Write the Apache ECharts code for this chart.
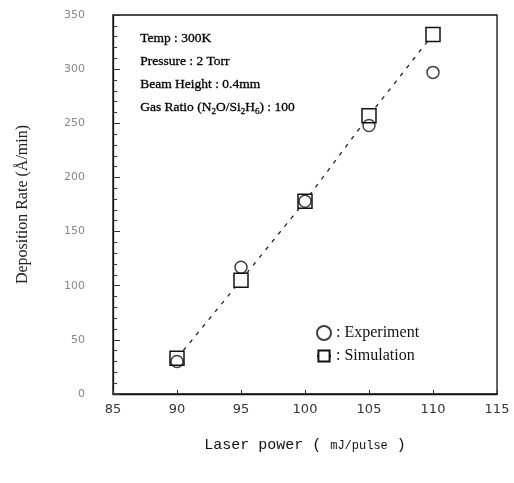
<!DOCTYPE html>
<html>
<head>
<meta charset="utf-8">
<script src="https://cdn.jsdelivr.net/npm/echarts@6/dist/echarts.min.js"></script>
<style>
  html, body { margin: 0; padding: 0; background: #fff; }
  #main { width: 514px; height: 483px; }
</style>
</head>
<body>
<div id="main"></div>
<script>
// laser power (mJ/pulse)
var power = [90, 95, 100, 105, 110];
// deposition rate (A/min)
var experiment = [30, 117, 178, 248, 297];
var simulation = [33, 105, 178, 257, 332];
var conditions = [
    'Temp : 300K',
    'Pressure : 2 Torr',
    'Beam Height : 0.4mm',
    'Gas Ratio (N{s|2}O/Si{s|2}H{s|6}) : 100'
];

var myChart = echarts.init(document.getElementById('main'));

var serif = '"Liberation Serif", "DejaVu Serif", serif';

var option = {
    backgroundColor: '#fff',
    animation: false,
    grid: { left: 113, right: 17, top: 15, bottom: 89 },
    legend: {
        orient: 'vertical',
        left: 311,
        top: 320,
        itemGap: 7,
        itemWidth: 14,
        itemHeight: 14,
        data: ['Experiment', 'Simulation'],
        formatter: function (name) { return ': ' + name; },
        textStyle: { fontFamily: serif, fontSize: 16, color: '#111' }
    },
    xAxis: {
        type: 'value',
        min: 85, max: 115, interval: 5,
        name: 'Laser power ( {s|mJ/pulse} )',
        nameLocation: 'middle',
        nameGap: 44,
        nameTextStyle: {
            fontFamily: '"Liberation Mono", monospace', fontSize: 15, color: '#111',
            rich: { s: { fontFamily: '"Liberation Mono", monospace', fontSize: 12, color: '#111' } }
        },
        axisLine: { lineStyle: { color: '#111', width: 1.3 } },
        axisTick: { inside: true, length: 4, lineStyle: { color: '#333' } },
        axisLabel: { fontFamily: '"DejaVu Sans", sans-serif', fontSize: 13, color: '#333', margin: 9 },
        splitLine: { show: false }
    },
    yAxis: {
        type: 'value',
        min: 0, max: 350, interval: 50,
        name: 'Deposition Rate (Å/min)',
        nameLocation: 'middle',
        nameGap: 82,
        nameTextStyle: { fontFamily: serif, fontSize: 16, color: '#222' },
        axisLine: { lineStyle: { color: '#111', width: 1.3 } },
        axisTick: { inside: true, length: 7, lineStyle: { color: '#333' } },
        minorTick: { show: true, splitNumber: 5, length: 4, lineStyle: { color: '#333' } },
        axisLabel: { fontFamily: '"DejaVu Sans", sans-serif', fontSize: 11, color: '#888', margin: 28 },
        splitLine: { show: false }
    },
    graphic: [
        {
            type: 'rect',
            shape: { x: 113, y: 15, width: 384, height: 379 },
            style: { fill: 'none', stroke: '#111', lineWidth: 1.3 },
            silent: true
        },
        {
            type: 'text',
            left: 140,
            top: 27,
            style: {
                text: conditions.join('\n'),
                font: '13.5px ' + serif,
                fill: '#000',
                stroke: '#000',
                lineWidth: 0.3,
                lineHeight: 23,
                rich: { s: { font: '9px ' + serif, fill: '#000', padding: [8, 0, 0, 0] } }
            }
        }
    ],
    series: [
        {
            name: 'Simulation',
            type: 'line',
            data: power.map(function (p, i) { return [p, simulation[i]]; }),
            symbol: 'rect',
            symbolSize: 14,
            z: 2,
            itemStyle: { color: '#fff', borderColor: '#111', borderWidth: 1.5 },
            lineStyle: { color: '#222', width: 1.3, type: [4, 6] }
        },
        {
            name: 'Experiment',
            type: 'scatter',
            data: power.map(function (p, i) { return [p, experiment[i]]; }),
            symbol: 'circle',
            symbolSize: 12,
            z: 3,
            itemStyle: { color: 'rgba(0,0,0,0)', borderColor: '#111', borderWidth: 1.5 }
        }
    ]
};

myChart.setOption(option);
</script>
</body>
</html>
